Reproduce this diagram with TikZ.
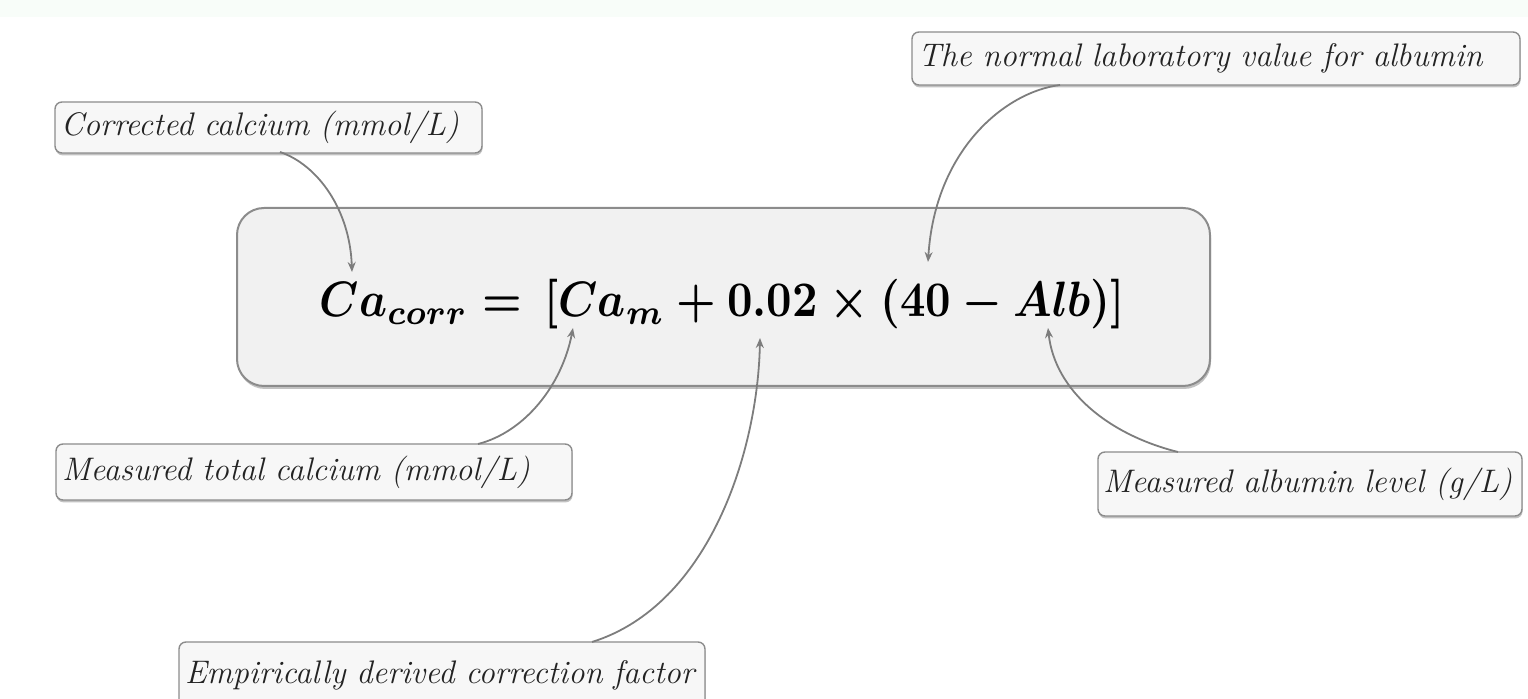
\documentclass[tikz,border=0pt]{standalone}
\usepackage{amsmath,bm}
\usetikzlibrary{arrows.meta,shadows}
\definecolor{lblfill}{RGB}{247,247,247}
\definecolor{lbldraw}{RGB}{140,140,140}
\definecolor{mainfill}{RGB}{241,241,241}
\definecolor{maindraw}{RGB}{140,140,140}
\definecolor{txt}{RGB}{35,35,35}
\definecolor{arr}{RGB}{125,125,125}
\definecolor{topstrip}{RGB}{248,253,249}
\tikzset{
  lbl/.style={draw=lbldraw, fill=lblfill, line width=0.7pt, rounded corners=3.5pt,
    inner xsep=3pt, inner ysep=0pt, align=left, text=txt,
    font=\fontsize{16.3}{20}\selectfont\itshape,
    drop shadow={shadow xshift=0.3pt, shadow yshift=-1.2pt, fill=black!40, opacity=0.6}},
  conn/.style={draw=arr, line width=0.9pt, -{Stealth[length=5pt,width=4pt]}},
}
\begin{document}
\begin{tikzpicture}[x=0.5pt,y=-0.5pt]
\useasboundingbox (0,0) rectangle (1528,699);
\fill[topstrip] (0,0) rectangle (1528,17);
% main formula box
\node[draw=maindraw, fill=mainfill, line width=1pt, rounded corners=13.5pt,
  minimum width=486.5pt, minimum height=89pt, inner sep=0pt,
  drop shadow={shadow xshift=0.5pt, shadow yshift=-1.5pt, fill=black!40, opacity=0.6}]
  (main) at (723.5,297) {};
\node[anchor=base, inner sep=0pt] (formula) at (722.5,317)
  {\scalebox{1}[1.12]{\resizebox{402.5pt}{!}{\boldmath$Ca_{corr}=\,[Ca_{m}+0.02\times(40-Alb)]$}}};
% labels
\node[lbl, text width=207.5pt, minimum height=25.5pt] (l1) at (268.5,127.5) {Corrected calcium (mmol/L)};
\node[lbl, text width=298pt, minimum height=26.5pt] (l2) at (1216,58.5) {The normal laboratory value for albumin};
\node[lbl, text width=252pt, minimum height=28pt] (l3) at (314,472) {Measured total calcium (mmol/L)};
\node[lbl, text width=207pt, minimum height=32pt, inner xsep=2.5pt] (l4) at (1310,484) {Measured albumin level (g/L)};
\node[lbl, text width=257pt, minimum height=33pt] (l5) at (442,675) {Empirically derived correction factor};
% arrow ends
\coordinate (s1) at (280,152);  \coordinate (t1) at (352,272);
\coordinate (s2) at (1060,85);  \coordinate (t2) at (928,262);
\coordinate (s3) at (478,444);  \coordinate (t3) at (573,328);
\coordinate (s4) at (1178,452); \coordinate (t4) at (1048,328);
\coordinate (s5) at (592,642);  \coordinate (t5) at (760,338);
\draw[conn] (s1) .. controls (318,165) and (350,210) .. (t1);
\draw[conn] (s2) .. controls (1005,92) and (935,150) .. (t2);
\draw[conn] (s3) .. controls (525,432) and (562,385) .. (t3);
\draw[conn] (s4) .. controls (1110,435) and (1055,392) .. (t4);
\draw[conn] (s5) .. controls (710,605) and (758,450) .. (t5);
\end{tikzpicture}
\end{document}
